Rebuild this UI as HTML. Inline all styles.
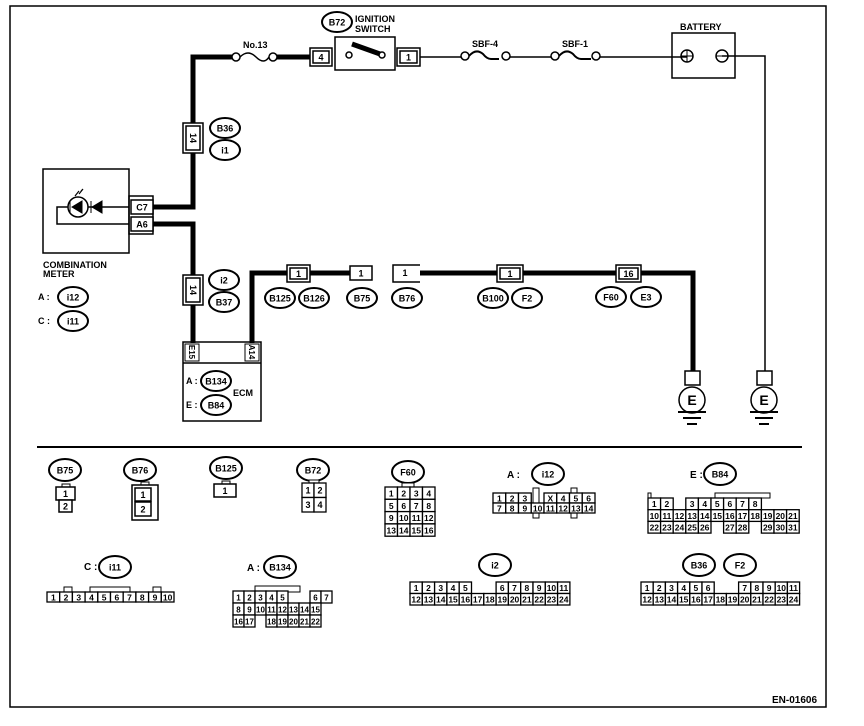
<!DOCTYPE html>
<html><head><meta charset="utf-8"><style>
html,body{margin:0;padding:0;background:#fff}
svg{display:block}
text{font-family:"Liberation Sans Narrow","Liberation Sans",sans-serif;font-weight:bold;fill:#000}
</style></head><body>
<svg id="s" width="864" height="726" viewBox="0 0 864 726" xmlns="http://www.w3.org/2000/svg">
<g fill="none" stroke="#000">
<rect x="10" y="6" width="816" height="701" stroke-width="1.5"/>
<line x1="37" y1="447" x2="802" y2="447" stroke-width="2"/>
<polyline points="232,57 193,57 193,207 152,207" stroke-width="5"/>
<polyline points="152,224 193,224 193,343" stroke-width="5"/>
<line x1="275" y1="57" x2="310" y2="57" stroke-width="5"/>
<polyline points="252,343 252,273 287,273" stroke-width="5"/>
<line x1="310" y1="273" x2="350" y2="273" stroke-width="5"/>
<line x1="420" y1="273" x2="497" y2="273" stroke-width="5"/>
<line x1="523" y1="273" x2="616" y2="273" stroke-width="5"/>
<polyline points="641,273 693,273 693,372" stroke-width="5"/>
<line x1="420" y1="57" x2="462" y2="57" stroke-width="1.5"/>
<line x1="510" y1="57" x2="553" y2="57" stroke-width="1.5"/>
<line x1="600" y1="57" x2="687" y2="57" stroke-width="1.5"/>
<polyline points="722,56 765,56 765,372" stroke-width="1.5"/>
<circle cx="236" cy="57" r="4" stroke-width="1.5" fill="#fff"/><circle cx="273" cy="57" r="4" stroke-width="1.5" fill="#fff"/>
<path d="M240,57 q8,-8 16,0 t13,0" stroke-width="1.5"/>
<circle cx="465" cy="56" r="4" stroke-width="1.5" fill="#fff"/><circle cx="506" cy="56" r="4" stroke-width="1.5" fill="#fff"/>
<path d="M469,56 q7,-8 14,-2 q4,5 8,5 h8" stroke-width="2"/>
<circle cx="555" cy="56" r="4" stroke-width="1.5" fill="#fff"/><circle cx="596" cy="56" r="4" stroke-width="1.5" fill="#fff"/>
<path d="M559,56 q7,-8 14,-2 q4,5 8,5 h10" stroke-width="2"/>
<rect x="335" y="37" width="60" height="33" stroke-width="1.5" fill="#fff"/>
<circle cx="349" cy="55" r="3" stroke-width="1.5"/>
<circle cx="382" cy="55" r="3" stroke-width="1.5"/>
<line x1="352" y1="44" x2="380" y2="54" stroke-width="5"/>
<rect x="672" y="33" width="63" height="45" stroke-width="1.5"/>
<circle cx="687" cy="56" r="6" stroke-width="1.5"/><line x1="681" y1="56" x2="693" y2="56"/><line x1="687" y1="50" x2="687" y2="62"/>
<circle cx="722" cy="56" r="6" stroke-width="1.5"/><line x1="716" y1="56" x2="728" y2="56"/>
<rect x="43" y="169" width="86" height="84" stroke-width="1.5"/>
<rect x="129" y="196" width="24" height="38" stroke-width="1.5"/>
<polyline points="129,207 57,207 57,224 129,224" stroke-width="1.5"/>
<circle cx="78" cy="207" r="10" stroke-width="1.5" fill="#fff"/>
<rect x="183" y="342" width="78" height="79" stroke-width="1.5"/>
<line x1="183" y1="363" x2="261" y2="363" stroke-width="1.5"/>
<rect x="185" y="344" width="14" height="17"/><rect x="245" y="344" width="14" height="17"/>
<rect x="685" y="371" width="15" height="14" stroke-width="1.5" fill="#fff"/>
<circle cx="692" cy="400" r="13" stroke-width="1.5"/>
<line x1="678" y1="412" x2="706" y2="412" stroke-width="2"/><line x1="683" y1="418" x2="701" y2="418" stroke-width="2"/><line x1="687" y1="424" x2="697" y2="424" stroke-width="2"/>
<rect x="757" y="371" width="15" height="14" stroke-width="1.5" fill="#fff"/>
<circle cx="764" cy="400" r="13" stroke-width="1.5"/>
<line x1="750" y1="412" x2="778" y2="412" stroke-width="2"/><line x1="755" y1="418" x2="773" y2="418" stroke-width="2"/><line x1="759" y1="424" x2="769" y2="424" stroke-width="2"/>
</g>
<path d="M72,207 l10,-6 v12 z M70,201 v12" fill="#000" stroke="#000"/>
<path d="M92,207 l10,-6 v12 z M91,201 v12" fill="#000" stroke="#000"/>
<path d="M75,196 l4,-5 M79,194 l4,-5 M81,191 l2,-2" stroke="#000" stroke-width="1.2"/>
<g id="dyn"></g>
<text x="43" y="268" font-size="9">COMBINATION</text>
<text x="43" y="277" font-size="9">METER</text>
<text x="38" y="300" font-size="9">A :</text>
<text x="38" y="324" font-size="9">C :</text>
<text x="186" y="384" font-size="9">A :</text>
<text x="186" y="408" font-size="9">E :</text>
<text x="233" y="396" font-size="9">ECM</text>
<text x="355" y="22" font-size="9">IGNITION</text>
<text x="355" y="32" font-size="9">SWITCH</text>
<text x="243" y="48" font-size="9">No.13</text>
<text x="472" y="47" font-size="9">SBF-4</text>
<text x="562" y="47" font-size="9">SBF-1</text>
<text x="680" y="30" font-size="9">BATTERY</text>
<text x="692" y="405" font-size="14" text-anchor="middle" font-weight="normal">E</text>
<text x="764" y="405" font-size="14" text-anchor="middle" font-weight="normal">E</text>
<text x="772" y="703" font-size="10">EN-01606</text>
<text x="84" y="570" font-size="10">C :</text>
<text x="247" y="571" font-size="10">A :</text>
<text x="507" y="478" font-size="10">A :</text>
<text x="690" y="478" font-size="10">E :</text>
</svg>
<script>
var g=document.getElementById('dyn'),NS='http://www.w3.org/2000/svg';
function el(t,a,txt){var e=document.createElementNS(NS,t);for(var k in a)e.setAttribute(k,a[k]);if(txt!=null)e.textContent=txt;g.appendChild(e);return e;}
function ov(cx,cy,t,rx,ry){rx=rx||15;ry=ry||10;el('ellipse',{cx:cx,cy:cy,rx:rx,ry:ry,fill:'#fff',stroke:'#000','stroke-width':2});el('text',{x:cx,y:cy+3.5,'font-size':9,'text-anchor':'middle'},t);}
function box(x,y,w,h,t,sw,fs){el('rect',{x:x,y:y,width:w,height:h,fill:'#fff',stroke:'#000','stroke-width':sw||1.5});if(t!=null)el('text',{x:x+w/2,y:y+h/2+3.3,'font-size':fs||9,'text-anchor':'middle'},t);}
function vbox(x,y,w,h,t){box(x,y,w,h,null,1.5);el('rect',{x:x+3,y:y+3,width:w-6,height:h-6,fill:'none',stroke:'#000','stroke-width':1.5});var cx=x+w/2,cy=y+h/2;el('text',{x:cx,y:cy+3,'font-size':9,'text-anchor':'middle',transform:'rotate(90 '+cx+' '+cy+')'},t);}
function conn(x,y,w,h,t){box(x,y,w,h,null,1.5);box(x+3,y+3,w-6,h-6,t,1.5);}
conn(310,48,22,18,'4');conn(397,48,23,18,'1');
vbox(183,123,20,30,'14');vbox(183,275,20,30,'14');
ov(225,128,'B36');ov(225,150,'i1');ov(224,280,'i2');ov(224,302,'B37');
ov(73,297,'i12');ov(73,321,'i11');
ov(216,381,'B134');ov(216,405,'B84');
box(131,200,22,14,'C7',1.5);box(131,217,22,14,'A6',1.5);
[[192,352,'E15'],[252,352,'A14']].forEach(function(a){el('text',{x:a[0],y:a[1]+3,'font-size':8,'text-anchor':'middle',transform:'rotate(90 '+a[0]+' '+a[1]+')'},a[2]);});
conn(287,265,23,17,'1');box(350,266,22,14,'1');
el('path',{d:'M420,265 H393 V282 H420',fill:'none',stroke:'#000','stroke-width':1.5});el('text',{x:405,y:276,'font-size':9,'text-anchor':'middle'},'1');
conn(497,265,26,17,'1');conn(616,265,25,17,'16');
ov(280,298,'B125');ov(314,298,'B126');ov(362,298,'B75');ov(407,298,'B76');
ov(493,298,'B100');ov(527,298,'F2');ov(611,297,'F60');ov(646,297,'E3');
ov(337,22,'B72');
ov(65,470,'B75',16,11);ov(140,470,'B76',16,11);ov(226,468,'B125',16,11);ov(313,470,'B72',16,11);ov(408,472,'F60',16,11);
ov(548,474,'i12',16,11);ov(720,474,'B84',16,11);ov(115,567,'i11',16,11);ov(280,567,'B134',16,11);ov(495,565,'i2',16,11);ov(699,565,'B36',16,11);ov(740,565,'F2',16,11);
box(62,484,8,3,null,1);box(56,487,19,13,'1');box(59,500,13,12,'2');
box(141,482,8,3,null,1);box(132,485,26,35,null);box(135,488,16,13,'1');box(135,502,16,14,'2');
box(222,481,8,3,null,1);box(214,484,22,13,'1');
box(309,480,10,3,null,1);
function grid(x,y,cw,ch,rows,fs){rows.forEach(function(r,ri){r.forEach(function(c,ci){if(c!==''&&c!=null)box(x+ci*cw,y+ri*ch,cw,ch,c,1.3,fs||8.5);});});}
grid(302,483,12,14.5,[['1','2'],['3','4']],9);
box(402,483,12,4,null,1);
grid(385,487,12.5,12.3,[['1','2','3','4'],['5','6','7','8'],['9','10','11','12'],['13','14','15','16']]);
box(533,488,6,30,null,1);box(571,488,6,30,null,1);
grid(493,493,12.75,10,[['1','2','3','','X','4','5','6'],['7','8','9','10','11','12','13','14']]);
box(648,493,3,5,null,1);box(715,493,55,5,null,1);
grid(648,498,12.6,11.7,[['1','2','','3','4','5','6','7','8'],['10','11','12','13','14','15','16','17','18','19','20','21'],['22','23','24','25','26','','27','28','','29','30','31']]);
box(64,587,8,5,null,1);box(90,587,40,5,null,1);box(153,587,8,5,null,1);
grid(47,592,12.7,10,[['1','2','3','4','5','6','7','8','9','10']]);
box(255,586,45,6,null,1);
grid(233,591,11,12,[['1','2','3','4','5','','','6','7'],['8','9','10','11','12','13','14','15',''],['16','17','','18','19','20','21','22','']].map(function(r,i){return i==1?['8','9','10','11','12','13','14','15']:r;}),8);
grid(233+0,603,99/8,12,[],8);
grid(410,582,12.3,11.5,[['1','2','3','4','5','','','6','7','8','9','10','11'],['12','13','14','15','16','17','18','19','20','21','22','23','24']]);
grid(641,582,12.2,11.5,[['1','2','3','4','5','6','','','7','8','9','10','11'],['12','13','14','15','16','17','18','19','20','21','22','23','24']]);
</script>
</body></html>
